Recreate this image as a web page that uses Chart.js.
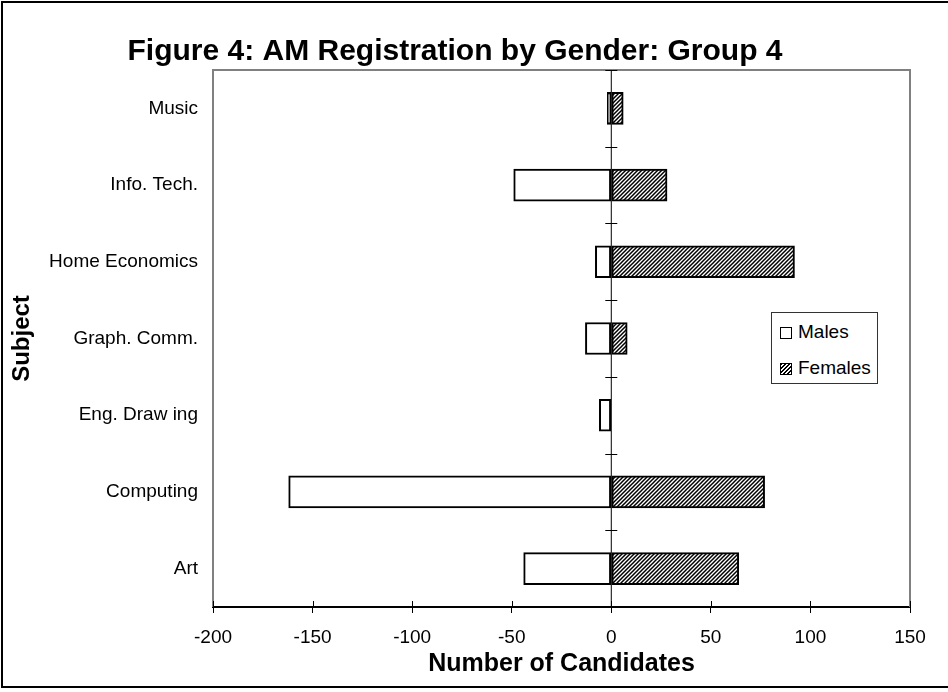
<!DOCTYPE html>
<html>
<head>
<meta charset="utf-8">
<script src="https://cdn.jsdelivr.net/npm/chart.js@4.4.0/dist/chart.umd.min.js"></script>
<style>
    html, body { margin: 0; padding: 0; background: #fff; overflow: hidden; }
    #wrap { position: relative; width: 948px; height: 692px; }
    #frame { position: absolute; left: 1px; top: 1px; width: 960px; height: 683px; border: 2px solid #000; pointer-events: none; }
    #legend { position: absolute; left: 771px; top: 312px; width: 105px; height: 70px; border: 1px solid #333; background: #fff;
              font: 19px "Liberation Sans", Arial, sans-serif; color: #000; }
    #legend div { position: absolute; left: 8px; height: 22px; line-height: 22px; }
    #legend span.sw { display: inline-block; width: 10px; height: 10px; border: 1.5px solid #000; vertical-align: -1px; margin-right: 6px; }
</style>
</head>
<body>
<div id="wrap">
    <canvas id="chart" width="948" height="692"></canvas>
    <div id="legend">
        <div style="top:8px"><span class="sw" style="background:#fff"></span>Males</div>
        <div style="top:44px"><span class="sw" style="background:repeating-linear-gradient(135deg,#000 0 1.4px,#fff 1.4px 2.8px)"></span>Females</div>
    </div>
    <div id="frame"></div>
</div>
<script>
const categories = ['Music', 'Info. Tech.', 'Home Economics', 'Graph. Comm.', 'Eng. Draw ing', 'Computing', 'Art'];
const males = [-2, -49, -8, -13, -6, -162, -44];
const females = [6, 28, 92, 8, 0, 77, 64];
const xTicks = [-200, -150, -100, -50, 0, 50, 100, 150];

const FONT = '"Liberation Sans", Arial, sans-serif';

// diagonal hatch for the Females bars
function makeHatch() {
    const c = document.createElement('canvas');
    c.width = 4; c.height = 4;
    const g = c.getContext('2d');
    g.fillStyle = '#fff';
    g.fillRect(0, 0, 4, 4);
    g.strokeStyle = '#000';
    g.lineWidth = 1.5;
    g.beginPath();
    g.moveTo(-1, 5); g.lineTo(5, -1);
    g.moveTo(-1, 1); g.lineTo(1, -1);
    g.moveTo(3, 5); g.lineTo(5, 3);
    g.stroke();
    return g.createPattern(c, 'repeat');
}

// plot frame, zero line with crosses, inner halves of x ticks
const axesPlugin = {
    id: 'axesPlugin',
    afterDatasetsDraw(chart) {
        const { ctx, chartArea: a, scales } = chart;
        const x0 = scales.x.getPixelForValue(0);
        const ys = scales.y;
        const step = ys.getPixelForValue(1) - ys.getPixelForValue(0);
        ctx.save();
        ctx.strokeStyle = '#808080';
        ctx.lineWidth = 2;
        ctx.beginPath();
        ctx.moveTo(a.left, a.bottom);
        ctx.lineTo(a.left, a.top);
        ctx.lineTo(a.right, a.top);
        ctx.lineTo(a.right, a.bottom);
        ctx.stroke();

        ctx.strokeStyle = '#000';
        ctx.lineWidth = 1;
        ctx.beginPath();
        ctx.moveTo(x0, a.top);
        ctx.lineTo(x0, a.bottom);
        for (let i = 0; i <= categories.length; i++) {
            const y = Math.round(ys.getPixelForValue(0) + (i - 0.5) * step) + 0.5;
            ctx.moveTo(x0 - 6, y);
            ctx.lineTo(x0 + 6, y);
        }
        xTicks.forEach(v => {
            const x = Math.round(scales.x.getPixelForValue(v)) + 0.5;
            ctx.moveTo(x, a.bottom);
            ctx.lineTo(x, a.bottom - 6);
        });
        ctx.stroke();
        ctx.restore();
    }
};

const hatch = makeHatch();

new Chart(document.getElementById('chart').getContext('2d'), {
    type: 'bar',
    data: {
        labels: categories,
        datasets: [{
            label: 'Males',
            data: males,
            backgroundColor: '#fff',
            borderColor: '#000',
            borderWidth: 2,
            borderSkipped: false
        }, {
            label: 'Females',
            data: females,
            backgroundColor: hatch,
            borderColor: '#000',
            borderWidth: 2,
            borderSkipped: false
        }]
    },
    options: {
        indexAxis: 'y',
        responsive: false,
        animation: false,
        events: [],
        layout: { padding: { left: 0, right: 38, top: 0, bottom: 0 } },
        datasets: { bar: { barThickness: 32 } },
        plugins: {
            legend: { display: false },
            tooltip: { enabled: false },
            title: {
                display: true,
                text: 'Figure 4: AM Registration by Gender: Group 4',
                color: '#000',
                font: { family: FONT, size: 30, weight: 'bold' },
                padding: { top: 34, bottom: 0 }
            }
        },
        scales: {
            x: {
                stacked: true,
                min: -200,
                max: 150,
                afterBuildTicks: s => { s.ticks = xTicks.map(v => ({ value: v })); },
                afterFit: s => { s.height = 85; },
                grid: { drawOnChartArea: false, drawTicks: true, tickLength: 6, color: '#000' },
                border: { display: true, color: '#000', width: 2 },
                ticks: { color: '#000', font: { family: FONT, size: 19 }, padding: 13, maxRotation: 0 },
                title: {
                    display: true,
                    text: 'Number of Candidates',
                    color: '#000',
                    font: { family: FONT, size: 25, weight: 'bold' },
                    padding: { top: 0, bottom: 13 }
                }
            },
            y: {
                stacked: true,
                afterFit: s => { s.width = 213; },
                grid: { display: false, drawTicks: false },
                border: { display: false },
                ticks: { color: '#000', font: { family: FONT, size: 19 }, padding: 15 },
                title: {
                    display: true,
                    text: 'Subject',
                    color: '#000',
                    font: { family: FONT, size: 24, weight: 'bold' },
                    padding: { top: 8, bottom: 0 }
                }
            }
        }
    },
    plugins: [axesPlugin]
});
</script>
</body>
</html>
